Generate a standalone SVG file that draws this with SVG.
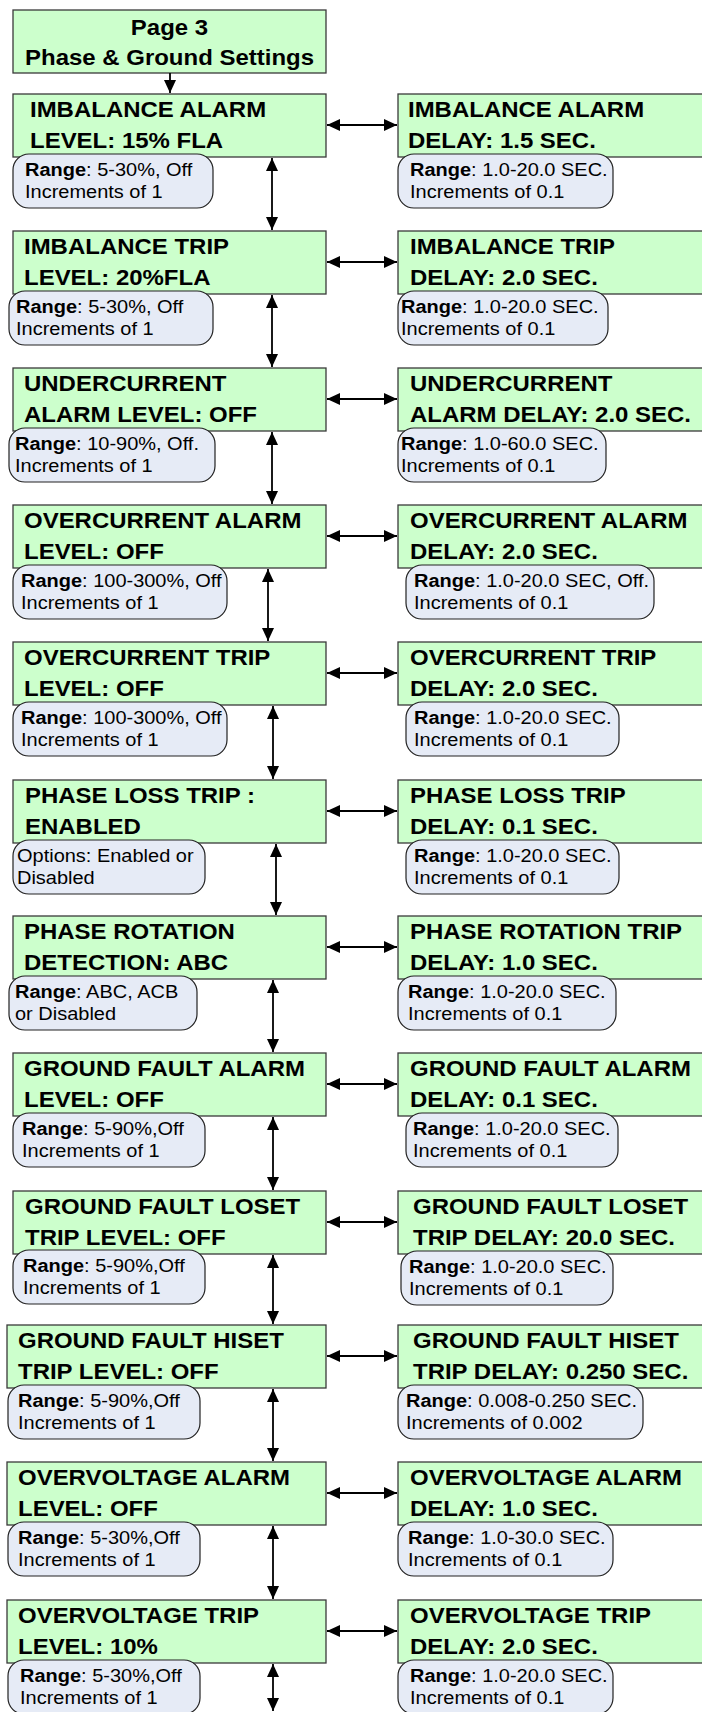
<svg xmlns="http://www.w3.org/2000/svg" width="702" height="1712" viewBox="0 0 702 1712">
<style>
.box{fill:#ccffcc;stroke:#3a3a3a;stroke-width:1.3}
.cal{fill:#e6ebf6;stroke:#222;stroke-width:1.2}
.b{font-family:"Liberation Sans",Arial,sans-serif;font-weight:bold;font-size:22px;fill:#000}
.c{font-family:"Liberation Sans",Arial,sans-serif;font-size:18.5px;fill:#000}
.c .k{font-weight:bold}
.ln{stroke:#000;stroke-width:1.8;fill:none}
</style>
<defs>
<marker id="ah" viewBox="0 0 13 12" refX="13" refY="6" markerWidth="13" markerHeight="12" markerUnits="userSpaceOnUse" orient="auto-start-reverse"><path d="M0,0 L13,6 L0,12 z" fill="#000"/></marker>
</defs>
<rect width="702" height="1712" fill="#fff"/>
<g id="title">
<rect class="box" x="13" y="10" width="313" height="63"/>
<text class="b" text-anchor="middle" transform="matrix(1.09 0 0 1 169.5 35)"><tspan x="0" y="0">Page 3</tspan><tspan x="0" y="30">Phase &amp; Ground Settings</tspan></text>
</g>
<g id="connectors">
<path class="ln" d="M170,73 V93" marker-end="url(#ah)"/>
<path class="ln" d="M327,125 H397" marker-start="url(#ah)" marker-end="url(#ah)"/>
<path class="ln" d="M327,262 H397" marker-start="url(#ah)" marker-end="url(#ah)"/>
<path class="ln" d="M327,399 H397" marker-start="url(#ah)" marker-end="url(#ah)"/>
<path class="ln" d="M327,536 H397" marker-start="url(#ah)" marker-end="url(#ah)"/>
<path class="ln" d="M327,673 H397" marker-start="url(#ah)" marker-end="url(#ah)"/>
<path class="ln" d="M327,811 H397" marker-start="url(#ah)" marker-end="url(#ah)"/>
<path class="ln" d="M327,947 H397" marker-start="url(#ah)" marker-end="url(#ah)"/>
<path class="ln" d="M327,1084 H397" marker-start="url(#ah)" marker-end="url(#ah)"/>
<path class="ln" d="M327,1222 H397" marker-start="url(#ah)" marker-end="url(#ah)"/>
<path class="ln" d="M327,1356 H397" marker-start="url(#ah)" marker-end="url(#ah)"/>
<path class="ln" d="M327,1493 H397" marker-start="url(#ah)" marker-end="url(#ah)"/>
<path class="ln" d="M327,1631 H397" marker-start="url(#ah)" marker-end="url(#ah)"/>
<path class="ln" d="M272,158 V230" marker-start="url(#ah)" marker-end="url(#ah)"/>
<path class="ln" d="M272,295 V367" marker-start="url(#ah)" marker-end="url(#ah)"/>
<path class="ln" d="M272,432 V504" marker-start="url(#ah)" marker-end="url(#ah)"/>
<path class="ln" d="M268,569 V641" marker-start="url(#ah)" marker-end="url(#ah)"/>
<path class="ln" d="M273,706 V779" marker-start="url(#ah)" marker-end="url(#ah)"/>
<path class="ln" d="M276,844 V915" marker-start="url(#ah)" marker-end="url(#ah)"/>
<path class="ln" d="M273,980 V1052" marker-start="url(#ah)" marker-end="url(#ah)"/>
<path class="ln" d="M273,1117 V1190" marker-start="url(#ah)" marker-end="url(#ah)"/>
<path class="ln" d="M273,1255 V1324" marker-start="url(#ah)" marker-end="url(#ah)"/>
<path class="ln" d="M273,1389 V1461" marker-start="url(#ah)" marker-end="url(#ah)"/>
<path class="ln" d="M273,1526 V1599" marker-start="url(#ah)" marker-end="url(#ah)"/>
<path class="ln" d="M273,1664 V1711" marker-start="url(#ah)" marker-end="url(#ah)"/>
</g>

<g id="imb-alarm-level">
<rect class="box" x="13" y="94" width="313" height="63"/>
<text class="b" transform="matrix(1.09 0 0 1 30 117)"><tspan x="0" y="0">IMBALANCE ALARM</tspan><tspan x="0" y="31">LEVEL: 15% FLA</tspan></text>
<rect class="cal" x="13" y="154" width="200" height="54" rx="16"/>
<text class="c" transform="matrix(1.08 0 0 1 25 176)"><tspan x="0" y="0"><tspan class="k">Range</tspan>: 5-30%, Off</tspan><tspan x="0" y="22">Increments of 1</tspan></text>
</g>
<g id="imb-alarm-delay">
<rect class="box" x="398" y="94" width="320" height="63"/>
<text class="b" transform="matrix(1.09 0 0 1 408 117)"><tspan x="0" y="0">IMBALANCE ALARM</tspan><tspan x="0" y="31">DELAY: 1.5 SEC.</tspan></text>
<rect class="cal" x="398" y="154" width="215" height="54" rx="16"/>
<text class="c" transform="matrix(1.08 0 0 1 410 176)"><tspan x="0" y="0"><tspan class="k">Range</tspan>: 1.0-20.0 SEC.</tspan><tspan x="0" y="22">Increments of 0.1</tspan></text>
</g>

<g id="imb-trip-level">
<rect class="box" x="13" y="231" width="313" height="63"/>
<text class="b" transform="matrix(1.09 0 0 1 24 254)"><tspan x="0" y="0">IMBALANCE TRIP</tspan><tspan x="0" y="31">LEVEL: 20%FLA</tspan></text>
<rect class="cal" x="9" y="291" width="204" height="54" rx="16"/>
<text class="c" transform="matrix(1.08 0 0 1 16 313)"><tspan x="0" y="0"><tspan class="k">Range</tspan>: 5-30%, Off</tspan><tspan x="0" y="22">Increments of 1</tspan></text>
</g>
<g id="imb-trip-delay">
<rect class="box" x="398" y="231" width="320" height="63"/>
<text class="b" transform="matrix(1.09 0 0 1 410 254)"><tspan x="0" y="0">IMBALANCE TRIP</tspan><tspan x="0" y="31">DELAY: 2.0 SEC.</tspan></text>
<rect class="cal" x="398" y="291" width="210" height="54" rx="16"/>
<text class="c" transform="matrix(1.08 0 0 1 401 313)"><tspan x="0" y="0"><tspan class="k">Range</tspan>: 1.0-20.0 SEC.</tspan><tspan x="0" y="22">Increments of 0.1</tspan></text>
</g>

<g id="under-alarm-level">
<rect class="box" x="13" y="368" width="313" height="63"/>
<text class="b" transform="matrix(1.09 0 0 1 24 391)"><tspan x="0" y="0">UNDERCURRENT</tspan><tspan x="0" y="31">ALARM LEVEL: OFF</tspan></text>
<rect class="cal" x="9" y="428" width="206" height="54" rx="16"/>
<text class="c" transform="matrix(1.08 0 0 1 15 450)"><tspan x="0" y="0"><tspan class="k">Range</tspan>: 10-90%, Off.</tspan><tspan x="0" y="22">Increments of 1</tspan></text>
</g>
<g id="under-alarm-delay">
<rect class="box" x="398" y="368" width="320" height="63"/>
<text class="b" transform="matrix(1.09 0 0 1 410 391)"><tspan x="0" y="0">UNDERCURRENT</tspan><tspan x="0" y="31">ALARM DELAY: 2.0 SEC.</tspan></text>
<rect class="cal" x="398" y="428" width="208" height="54" rx="16"/>
<text class="c" transform="matrix(1.08 0 0 1 401 450)"><tspan x="0" y="0"><tspan class="k">Range</tspan>: 1.0-60.0 SEC.</tspan><tspan x="0" y="22">Increments of 0.1</tspan></text>
</g>

<g id="over-alarm-level">
<rect class="box" x="13" y="505" width="313" height="63"/>
<text class="b" transform="matrix(1.09 0 0 1 24 528)"><tspan x="0" y="0">OVERCURRENT ALARM</tspan><tspan x="0" y="31">LEVEL: OFF</tspan></text>
<rect class="cal" x="13" y="565" width="214" height="54" rx="16"/>
<text class="c" transform="matrix(1.08 0 0 1 21 587)"><tspan x="0" y="0"><tspan class="k">Range</tspan>: 100-300%, Off</tspan><tspan x="0" y="22">Increments of 1</tspan></text>
</g>
<g id="over-alarm-delay">
<rect class="box" x="398" y="505" width="320" height="63"/>
<text class="b" transform="matrix(1.09 0 0 1 410 528)"><tspan x="0" y="0">OVERCURRENT ALARM</tspan><tspan x="0" y="31">DELAY: 2.0 SEC.</tspan></text>
<rect class="cal" x="406" y="565" width="248" height="54" rx="16"/>
<text class="c" transform="matrix(1.08 0 0 1 414 587)"><tspan x="0" y="0"><tspan class="k">Range</tspan>: 1.0-20.0 SEC, Off.</tspan><tspan x="0" y="22">Increments of 0.1</tspan></text>
</g>

<g id="over-trip-level">
<rect class="box" x="13" y="642" width="313" height="63"/>
<text class="b" transform="matrix(1.09 0 0 1 24 665)"><tspan x="0" y="0">OVERCURRENT TRIP</tspan><tspan x="0" y="31">LEVEL: OFF</tspan></text>
<rect class="cal" x="13" y="702" width="214" height="54" rx="16"/>
<text class="c" transform="matrix(1.08 0 0 1 21 724)"><tspan x="0" y="0"><tspan class="k">Range</tspan>: 100-300%, Off</tspan><tspan x="0" y="22">Increments of 1</tspan></text>
</g>
<g id="over-trip-delay">
<rect class="box" x="398" y="642" width="320" height="63"/>
<text class="b" transform="matrix(1.09 0 0 1 410 665)"><tspan x="0" y="0">OVERCURRENT TRIP</tspan><tspan x="0" y="31">DELAY: 2.0 SEC.</tspan></text>
<rect class="cal" x="406" y="702" width="213" height="54" rx="16"/>
<text class="c" transform="matrix(1.08 0 0 1 414 724)"><tspan x="0" y="0"><tspan class="k">Range</tspan>: 1.0-20.0 SEC.</tspan><tspan x="0" y="22">Increments of 0.1</tspan></text>
</g>

<g id="phase-loss-trip">
<rect class="box" x="13" y="780" width="313" height="63"/>
<text class="b" transform="matrix(1.09 0 0 1 25 803)"><tspan x="0" y="0">PHASE LOSS TRIP :</tspan><tspan x="0" y="31">ENABLED</tspan></text>
<rect class="cal" x="13" y="840" width="192" height="54" rx="16"/>
<text class="c" transform="matrix(1.08 0 0 1 17 862)"><tspan x="0" y="0">Options: Enabled or</tspan><tspan x="0" y="22">Disabled</tspan></text>
</g>
<g id="phase-loss-delay">
<rect class="box" x="398" y="780" width="320" height="63"/>
<text class="b" transform="matrix(1.09 0 0 1 410 803)"><tspan x="0" y="0">PHASE LOSS TRIP</tspan><tspan x="0" y="31">DELAY: 0.1 SEC.</tspan></text>
<rect class="cal" x="406" y="840" width="213" height="54" rx="16"/>
<text class="c" transform="matrix(1.08 0 0 1 414 862)"><tspan x="0" y="0"><tspan class="k">Range</tspan>: 1.0-20.0 SEC.</tspan><tspan x="0" y="22">Increments of 0.1</tspan></text>
</g>

<g id="phase-rotation">
<rect class="box" x="13" y="916" width="313" height="63"/>
<text class="b" transform="matrix(1.09 0 0 1 24 939)"><tspan x="0" y="0">PHASE ROTATION</tspan><tspan x="0" y="31">DETECTION: ABC</tspan></text>
<rect class="cal" x="9" y="976" width="188" height="54" rx="16"/>
<text class="c" transform="matrix(1.08 0 0 1 15 998)"><tspan x="0" y="0"><tspan class="k">Range</tspan>: ABC, ACB</tspan><tspan x="0" y="22">or Disabled</tspan></text>
</g>
<g id="phase-rotation-delay">
<rect class="box" x="398" y="916" width="320" height="63"/>
<text class="b" transform="matrix(1.09 0 0 1 410 939)"><tspan x="0" y="0">PHASE ROTATION TRIP</tspan><tspan x="0" y="31">DELAY: 1.0 SEC.</tspan></text>
<rect class="cal" x="398" y="976" width="218" height="54" rx="16"/>
<text class="c" transform="matrix(1.08 0 0 1 408 998)"><tspan x="0" y="0"><tspan class="k">Range</tspan>: 1.0-20.0 SEC.</tspan><tspan x="0" y="22">Increments of 0.1</tspan></text>
</g>

<g id="gf-alarm-level">
<rect class="box" x="13" y="1053" width="313" height="63"/>
<text class="b" transform="matrix(1.09 0 0 1 24 1076)"><tspan x="0" y="0">GROUND FAULT ALARM</tspan><tspan x="0" y="31">LEVEL: OFF</tspan></text>
<rect class="cal" x="13" y="1113" width="192" height="54" rx="16"/>
<text class="c" transform="matrix(1.08 0 0 1 22 1135)"><tspan x="0" y="0"><tspan class="k">Range</tspan>: 5-90%,Off</tspan><tspan x="0" y="22">Increments of 1</tspan></text>
</g>
<g id="gf-alarm-delay">
<rect class="box" x="398" y="1053" width="320" height="63"/>
<text class="b" transform="matrix(1.09 0 0 1 410 1076)"><tspan x="0" y="0">GROUND FAULT ALARM</tspan><tspan x="0" y="31">DELAY: 0.1 SEC.</tspan></text>
<rect class="cal" x="406" y="1113" width="212" height="54" rx="16"/>
<text class="c" transform="matrix(1.08 0 0 1 413 1135)"><tspan x="0" y="0"><tspan class="k">Range</tspan>: 1.0-20.0 SEC.</tspan><tspan x="0" y="22">Increments of 0.1</tspan></text>
</g>

<g id="gf-loset-level">
<rect class="box" x="13" y="1191" width="313" height="63"/>
<text class="b" transform="matrix(1.09 0 0 1 25 1214)"><tspan x="0" y="0">GROUND FAULT LOSET</tspan><tspan x="0" y="31">TRIP LEVEL: OFF</tspan></text>
<rect class="cal" x="13" y="1250" width="192" height="54" rx="16"/>
<text class="c" transform="matrix(1.08 0 0 1 23 1272)"><tspan x="0" y="0"><tspan class="k">Range</tspan>: 5-90%,Off</tspan><tspan x="0" y="22">Increments of 1</tspan></text>
</g>
<g id="gf-loset-delay">
<rect class="box" x="398" y="1191" width="320" height="63"/>
<text class="b" transform="matrix(1.09 0 0 1 413 1214)"><tspan x="0" y="0">GROUND FAULT LOSET</tspan><tspan x="0" y="31">TRIP DELAY: 20.0 SEC.</tspan></text>
<rect class="cal" x="401" y="1251" width="212" height="54" rx="16"/>
<text class="c" transform="matrix(1.08 0 0 1 409 1273)"><tspan x="0" y="0"><tspan class="k">Range</tspan>: 1.0-20.0 SEC.</tspan><tspan x="0" y="22">Increments of 0.1</tspan></text>
</g>

<g id="gf-hiset-level">
<rect class="box" x="7" y="1325" width="319" height="63"/>
<text class="b" transform="matrix(1.09 0 0 1 18 1348)"><tspan x="0" y="0">GROUND FAULT HISET</tspan><tspan x="0" y="31">TRIP LEVEL: OFF</tspan></text>
<rect class="cal" x="8" y="1385" width="192" height="54" rx="16"/>
<text class="c" transform="matrix(1.08 0 0 1 18 1407)"><tspan x="0" y="0"><tspan class="k">Range</tspan>: 5-90%,Off</tspan><tspan x="0" y="22">Increments of 1</tspan></text>
</g>
<g id="gf-hiset-delay">
<rect class="box" x="398" y="1325" width="320" height="63"/>
<text class="b" transform="matrix(1.09 0 0 1 413 1348)"><tspan x="0" y="0">GROUND FAULT HISET</tspan><tspan x="0" y="31">TRIP DELAY: 0.250 SEC.</tspan></text>
<rect class="cal" x="398" y="1385" width="245" height="54" rx="16"/>
<text class="c" transform="matrix(1.08 0 0 1 406 1407)"><tspan x="0" y="0"><tspan class="k">Range</tspan>: 0.008-0.250 SEC.</tspan><tspan x="0" y="22">Increments of 0.002</tspan></text>
</g>

<g id="ov-alarm-level">
<rect class="box" x="7" y="1462" width="319" height="63"/>
<text class="b" transform="matrix(1.09 0 0 1 18 1485)"><tspan x="0" y="0">OVERVOLTAGE ALARM</tspan><tspan x="0" y="31">LEVEL: OFF</tspan></text>
<rect class="cal" x="8" y="1522" width="192" height="54" rx="16"/>
<text class="c" transform="matrix(1.08 0 0 1 18 1544)"><tspan x="0" y="0"><tspan class="k">Range</tspan>: 5-30%,Off</tspan><tspan x="0" y="22">Increments of 1</tspan></text>
</g>
<g id="ov-alarm-delay">
<rect class="box" x="398" y="1462" width="320" height="63"/>
<text class="b" transform="matrix(1.09 0 0 1 410 1485)"><tspan x="0" y="0">OVERVOLTAGE ALARM</tspan><tspan x="0" y="31">DELAY: 1.0 SEC.</tspan></text>
<rect class="cal" x="398" y="1522" width="215" height="54" rx="16"/>
<text class="c" transform="matrix(1.08 0 0 1 408 1544)"><tspan x="0" y="0"><tspan class="k">Range</tspan>: 1.0-30.0 SEC.</tspan><tspan x="0" y="22">Increments of 0.1</tspan></text>
</g>

<g id="ov-trip-level">
<rect class="box" x="7" y="1600" width="319" height="63"/>
<text class="b" transform="matrix(1.09 0 0 1 18 1623)"><tspan x="0" y="0">OVERVOLTAGE TRIP</tspan><tspan x="0" y="31">LEVEL: 10%</tspan></text>
<rect class="cal" x="8" y="1660" width="192" height="54" rx="16"/>
<text class="c" transform="matrix(1.08 0 0 1 20 1682)"><tspan x="0" y="0"><tspan class="k">Range</tspan>: 5-30%,Off</tspan><tspan x="0" y="22">Increments of 1</tspan></text>
</g>
<g id="ov-trip-delay">
<rect class="box" x="398" y="1600" width="320" height="63"/>
<text class="b" transform="matrix(1.09 0 0 1 410 1623)"><tspan x="0" y="0">OVERVOLTAGE TRIP</tspan><tspan x="0" y="31">DELAY: 2.0 SEC.</tspan></text>
<rect class="cal" x="398" y="1660" width="215" height="54" rx="16"/>
<text class="c" transform="matrix(1.08 0 0 1 410 1682)"><tspan x="0" y="0"><tspan class="k">Range</tspan>: 1.0-20.0 SEC.</tspan><tspan x="0" y="22">Increments of 0.1</tspan></text>
</g>
</svg>
